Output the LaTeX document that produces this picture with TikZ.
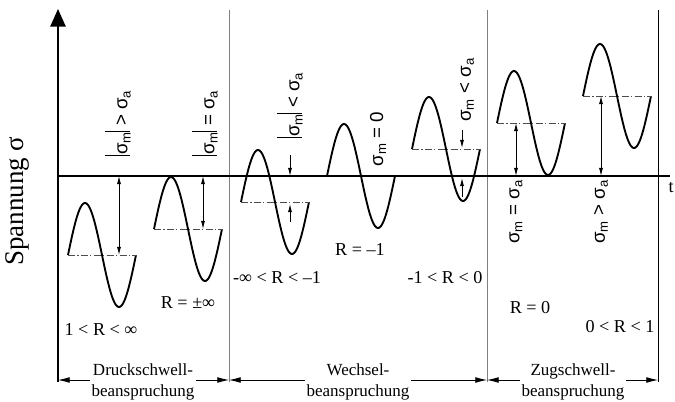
\documentclass[tikz,border=0pt]{standalone}
\usepackage{fontspec}
\setmainfont{Liberation Serif}
\newfontfamily\labelfont{Liberation Sans}
\usetikzlibrary{arrows.meta}

\newcommand{\bbar}{\rule[-0.12em]{0.7pt}{1.3em}}
\newcommand{\sig}[1]{σ\textsubscript{#1}}

\tikzset{
  wave/.style={line width=1.6pt, line join=round},
  midline/.style={gray!60!black, line width=0.6pt, dash pattern=on 6pt off 2pt on 1pt off 2pt},
  dimarrow/.style={{Latex[length=7pt,width=3.5pt]}-{Latex[length=7pt,width=3.5pt]}, line width=0.7pt},
  pointer/.style={-{Latex[length=7pt,width=3.5pt]}, line width=0.7pt},
  spanarrow/.style={{Latex[length=10pt,width=5pt]}-{Latex[length=10pt,width=5pt]}, line width=0.7pt},
  sepline/.style={gray, line width=0.8pt},
  rlabel/.style={font=\fontsize{15.5}{17}\selectfont},
  slabel/.style={rotate=90, font=\labelfont\fontsize{16}{18}\selectfont},
  rangebox/.style={fill=white, align=center, inner sep=1pt, font=\fontsize{14.5}{18.5}\selectfont}
}

\begin{document}
\begin{tikzpicture}[x=0.03cm, y=-0.03cm]
\useasboundingbox (0,0) rectangle (675,402);

% Achsen und Trennlinien
\draw[sepline] (229,10) -- (229,382);
\draw[sepline] (487,10) -- (487,382);
\draw[line width=0.8pt] (658,10) -- (658,382);
\draw[line width=1.6pt, -{Triangle[length=15pt,width=13pt]}] (58,382) -- (58,9);
\draw[line width=1.6pt] (58,176) -- (670,176);
\node[anchor=east, inner sep=1pt, rlabel] (t) at (675,187) {t};
\node[rotate=90, font=\fontsize{23}{26}\selectfont] (spannung) at (17,201) {Spannung σ};

% Schwingungen (Start x / Mittelspannung y)
\foreach \xs/\ym in {68/255, 154/229, 241/202, 327/176, 412/149, 497/123, 583/96} {
  \draw[wave] plot[variable=\t, domain=0:1, samples=60] ({\xs+68*\t}, {\ym-52*sin(360*\t)});
}
\foreach \xs/\ym in {68/255, 154/229, 241/202, 412/149, 497/123, 583/96} {
  \draw[midline] (\xs,\ym) -- ++(68,0);
}

% Mittelspannung als Abstand zur Nulllinie
\draw[dimarrow] (119,176) -- (119,255);
\draw[dimarrow] (203,176) -- (203,229);
\draw[pointer] (290,155) -- (290,176);
\draw[pointer] (290,222) -- (290,204);
\draw[pointer] (462,130) -- (462,148);
\draw[pointer] (462,197) -- (462,178);
\draw[dimarrow] (516,176) -- (516,123);
\draw[dimarrow] (601,176) -- (601,96);

% Bedingungen
\node[slabel] (c1) at (118,123) {\bbar\sig{m}\bbar\ > \sig{a}};
\node[slabel] (c2) at (205,123) {\bbar\sig{m}\bbar\ = \sig{a}};
\node[slabel] (c3) at (290,105) {\bbar\sig{m}\bbar\ < \sig{a}};
\node[slabel] (c4) at (378,139) {\sig{m} = 0};
\node[slabel] (c5) at (467,90) {\sig{m} < \sig{a}};
\node[slabel] (c6) at (516,212) {\sig{m} = \sig{a}};
\node[slabel] (c7) at (601,212) {\sig{m} > \sig{a}};

% Spannungsverhaeltnis R
\node[rlabel] (r1) at (101,330) {1 < R < ∞};
\node[rlabel] (r2) at (188,303) {R = ±∞};
\node[rlabel] (r3) at (277,278) {-∞ < R < –1};
\node[rlabel] (r4) at (360,250) {R = –1};
\node[rlabel] (r5) at (445,278) {-1 < R < 0};
\node[rlabel] (r6) at (530,308) {R = 0};
\node[rlabel] (r7) at (620,327) {0 < R < 1};

% Beanspruchungsbereiche
\coordinate (b0) at (58,380);
\coordinate (b1) at (229,380);
\coordinate (b2) at (487,380);
\coordinate (b3) at (658,380);
\draw[spanarrow] (b0) -- (b1);
\draw[spanarrow] (b1) -- (b2);
\draw[spanarrow] (b2) -- (b3);
\node[rangebox] (druck) at (143,382) {Druckschwell-\\beanspruchung};
\node[rangebox] (wechsel) at (358,382) {Wechsel-\\beanspruchung};
\node[rangebox] (zug) at (573,382) {Zugschwell-\\beanspruchung};
\end{tikzpicture}
\end{document}
